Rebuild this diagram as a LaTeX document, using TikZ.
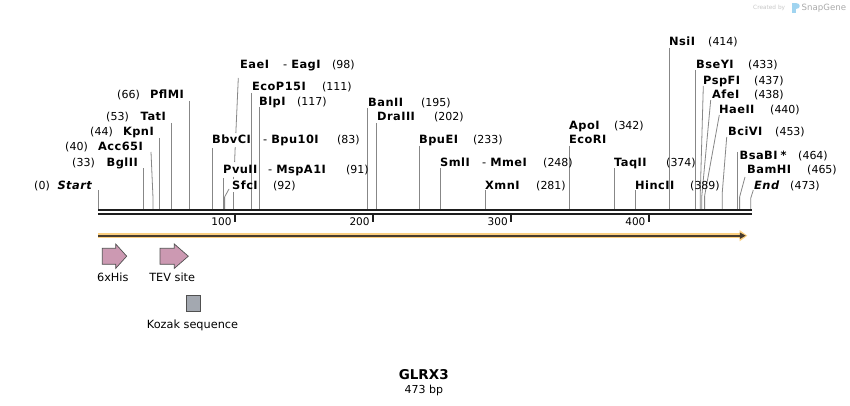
\documentclass[tikz,border=0pt]{standalone}
\usepackage{fontspec}
\setmainfont{DejaVu Sans}
\newfontfamily\namefont[LetterSpace=4]{DejaVu Sans}
\definecolor{siteg}{RGB}{135,135,135}
\definecolor{dnak}{RGB}{30,30,30}
\definecolor{orband}{RGB}{252,208,128}
\definecolor{ordark}{RGB}{72,60,46}
\definecolor{featpink}{RGB}{204,153,178}
\definecolor{featedge}{RGB}{80,80,80}
\definecolor{kozakg}{RGB}{163,168,176}
\definecolor{credg}{RGB}{200,200,200}
\definecolor{credb}{RGB}{160,212,240}
\tikzset{
  siteline/.style={draw=siteg, line width=0.8pt},
  ename/.style={font=\fontsize{11.4}{13}\namefont\bfseries, inner sep=0pt},
  eital/.style={font=\fontsize{11.4}{13}\namefont\bfseries\itshape, inner sep=0pt},
  enum/.style={font=\fontsize{11}{13}\selectfont, inner sep=0pt},
  ticklab/.style={font=\fontsize{10.5}{12}\selectfont, inner sep=0pt, anchor=base east},
  dnaline/.style={draw=dnak, line width=2.4pt},
  tickmark/.style={draw=dnak, line width=1.8pt},
  featarrow/.style={fill=featpink, draw=featedge, line width=0.7pt},
  featlab/.style={font=\fontsize{11.3}{13}\selectfont, inner sep=0pt},
}
\begin{document}
\begin{tikzpicture}[x=1pt, y=-1pt]
\useasboundingbox (0,0) rectangle (850,406);
\fill[white] (0,0) rectangle (850,406);

% credit
\node[font=\fontsize{5.8}{7}\selectfont, text=credg, inner sep=0pt, anchor=base west] (credit) at (753,10) {Created by};
\fill[credb] (792,3) rectangle (796,13);
\fill[credb] (796,3) .. controls (801,3) and (801,9) .. (796,9) -- cycle;
\node[font=\fontsize{8.6}{10}\selectfont, text=credg!85!black, inner sep=0pt, anchor=base west] (snapgene) at (801.5,10.5) {SnapGene};

% site lines
\draw[siteline] (98.3,190) -- (98.3,209);
\draw[siteline] (143.3,168) -- (143.3,209);
\draw[siteline] (151,152) -- (153,198) -- (153,209);
\draw[siteline] (159.3,138) -- (159.3,209);
\draw[siteline] (171.3,123) -- (171.3,209);
\draw[siteline] (189.3,101) -- (189.3,209);
\draw[siteline] (212.3,148) -- (212.3,209);
\draw[siteline] (223.3,178) -- (223.3,209);
\draw[siteline] (229,189) -- (224.6,197) -- (224.6,209);
\draw[siteline] (238.3,78) -- (235.85,133);
\draw[siteline] (235.2,147) -- (234.6,162);
\draw[siteline] (233.6,177) -- (233.5,179);
\draw[siteline] (233.3,192) -- (233.3,209);
\draw[siteline] (251.7,93) -- (251.7,209);
\draw[siteline] (259.3,107) -- (259.3,209);
\draw[siteline] (367.3,108) -- (367.3,209);
\draw[siteline] (376.3,123) -- (376.3,209);
\draw[siteline] (419.3,146) -- (419.3,209);
\draw[siteline] (440,168) -- (440,209);
\draw[siteline] (485,190) -- (485,209);
\draw[siteline] (569.3,146) -- (569.3,209);
\draw[siteline] (614,168) -- (614,209);
\draw[siteline] (635,190) -- (635,209);
\draw[siteline] (669.3,48) -- (669.3,209);
\draw[siteline] (695.7,70) -- (695.7,209);
\draw[siteline] (703.3,86) -- (700.2,196) -- (700.2,209);
\draw[siteline] (710.7,100) -- (701.8,196) -- (701.8,209);
\draw[siteline] (719.3,115) -- (704.6,196) -- (704.6,209);
\draw[siteline] (726.7,137) -- (722.3,192) -- (722.3,209);
\draw[siteline] (737.8,152) -- (737.8,209);
\draw[siteline] (745,177) -- (739.6,197) -- (739.6,209);
\draw[siteline] (753.3,190) -- (750.8,198) -- (750.8,209);

% left labels (right aligned)
\node[eital, anchor=base east] (nStart) at (92,189) {Start};
\node[enum, anchor=base east] (cStart) at (50,189) {(0)};
\node[ename, anchor=base east] (nBglII) at (138,166) {BglII};
\node[enum, anchor=base east] (cBglII) at (95,166) {(33)};
\node[ename, anchor=base east] (nAcc) at (143,151) {Acc65I};
\node[enum, anchor=base east] (cAcc) at (88,151) {(40)};
\node[ename, anchor=base east] (nKpn) at (154,136) {KpnI};
\node[enum, anchor=base east] (cKpn) at (113,136) {(44)};
\node[ename, anchor=base east] (nTat) at (166,121) {TatI};
\node[enum, anchor=base east] (cTat) at (129,121) {(53)};
\node[ename, anchor=base east] (nPfl) at (184,99) {PflMI};
\node[enum, anchor=base east] (cPfl) at (140,99) {(66)};

% middle labels
\node[ename, anchor=base west] (nEae) at (240,69) {EaeI};
\node[ename, anchor=base west] (nEag) at (283,69) {{\mdseries-}\hspace{4pt}EagI};
\node[enum, anchor=base west] (cEae) at (332,69) {(98)};
\node[ename, anchor=base west] (nEco15) at (252,91) {EcoP15I};
\node[enum, anchor=base west] (cEco15) at (322,91) {(111)};
\node[ename, anchor=base west] (nBlp) at (259,106) {BlpI};
\node[enum, anchor=base west] (cBlp) at (297,106) {(117)};
\node[ename, anchor=base west] (nBbv) at (212,144) {BbvCI};
\node[ename, anchor=base west] (nBpu10) at (263,144) {{\mdseries-}\hspace{4pt}Bpu10I};
\node[enum, anchor=base west] (cBbv) at (337,144) {(83)};
\node[ename, anchor=base west] (nPvu) at (223,173) {PvuII};
\node[ename, anchor=base west] (nMsp) at (268,173) {{\mdseries-}\hspace{4pt}MspA1I};
\node[enum, anchor=base west] (cPvu) at (346,173) {(91)};
\node[ename, anchor=base west] (nSfc) at (232,189) {SfcI};
\node[enum, anchor=base west] (cSfc) at (273,189) {(92)};
\node[ename, anchor=base west] (nBan) at (368,107) {BanII};
\node[enum, anchor=base west] (cBan) at (421,107) {(195)};
\node[ename, anchor=base west] (nDra) at (377,121) {DraIII};
\node[enum, anchor=base west] (cDra) at (434,121) {(202)};
\node[ename, anchor=base west] (nBpuE) at (419,144) {BpuEI};
\node[enum, anchor=base west] (cBpuE) at (473,144) {(233)};
\node[ename, anchor=base west] (nSml) at (440,166) {SmlI};
\node[ename, anchor=base west] (nMme) at (482,166) {{\mdseries-}\hspace{4pt}MmeI};
\node[enum, anchor=base west] (cSml) at (543,166) {(248)};
\node[ename, anchor=base west] (nXmn) at (485,189) {XmnI};
\node[enum, anchor=base west] (cXmn) at (536,189) {(281)};
\node[ename, anchor=base west] (nApo) at (569,130) {ApoI};
\node[enum, anchor=base west] (cApo) at (614,130) {(342)};
\node[ename, anchor=base west] (nEcoRI) at (569,144) {EcoRI};
\node[ename, anchor=base west] (nTaq) at (614,166) {TaqII};
\node[enum, anchor=base west] (cTaq) at (666,166) {(374)};
\node[ename, anchor=base west] (nHinc) at (635,189) {HincII};
\node[enum, anchor=base west] (cHinc) at (690,189) {(389)};

% right labels
\node[ename, anchor=base west] (nNsi) at (669,46) {NsiI};
\node[enum, anchor=base west] (cNsi) at (708,46) {(414)};
\node[ename, anchor=base west] (nBseY) at (696,69) {BseYI};
\node[enum, anchor=base west] (cBseY) at (748,69) {(433)};
\node[ename, anchor=base west] (nPspF) at (703,85) {PspFI};
\node[enum, anchor=base west] (cPspF) at (754,85) {(437)};
\node[ename, anchor=base west] (nAfe) at (712,99) {AfeI};
\node[enum, anchor=base west] (cAfe) at (754,99) {(438)};
\node[ename, anchor=base west] (nHae) at (719,114) {HaeII};
\node[enum, anchor=base west] (cHae) at (770,114) {(440)};
\node[ename, anchor=base west] (nBci) at (728,136) {BciVI};
\node[enum, anchor=base west] (cBci) at (775,136) {(453)};
\node[ename, anchor=base west] (nBsaB) at (739.5,160) {BsaBI\hspace{3pt}*};
\node[enum, anchor=base west] (cBsaB) at (798,160) {(464)};
\node[ename, anchor=base west] (nBam) at (747,174) {BamHI};
\node[enum, anchor=base west] (cBam) at (807,174) {(465)};
\node[eital, anchor=base west] (nEnd) at (754,189) {End};
\node[enum, anchor=base west] (cEnd) at (790,189) {(473)};

% DNA
\draw[dnaline] (98,210.2) -- (751.7,210.2);
\draw[dnaline] (98,214) -- (751.7,214);
\draw[tickmark] (235,214) -- (235,222);
\draw[tickmark] (373.1,214) -- (373.1,222);
\draw[tickmark] (511.2,214) -- (511.2,222);
\draw[tickmark] (649.3,214) -- (649.3,222);
\node[ticklab] (t100) at (231.7,225.5) {100};
\node[ticklab] (t200) at (369.8,225.5) {200};
\node[ticklab] (t300) at (507.9,225.5) {300};
\node[ticklab] (t400) at (645.6,225.5) {400};

% ORF
\draw[draw=orband, line width=5.5pt] (98.3,235.7) -- (741,235.7);
\fill[orband] (739.5,230) -- (747.3,235.7) -- (739.5,241.4) -- cycle;
\draw[draw=ordark, line width=1.6pt] (98.3,235.7) -- (741,235.7);
\fill[ordark] (739.8,232.4) -- (745.6,235.7) -- (739.8,239) -- cycle;

% features
\draw[featarrow] (102.3,248.3) -- (115.7,248.3) -- (115.7,244) -- (126.7,256.2) -- (115.7,268.4) -- (115.7,264.3) -- (102.3,264.3) -- cycle;
\draw[featarrow] (160,248.3) -- (174.3,248.3) -- (174.3,244) -- (188.3,256.2) -- (174.3,268.4) -- (174.3,264.3) -- (160,264.3) -- cycle;
\node[featlab] (lHis) at (112.8,277.3) {6xHis};
\node[featlab] (lTEV) at (172.2,277.3) {TEV site};
\draw[fill=kozakg, draw=featedge, line width=0.7pt] (186.7,295) rectangle (200.7,311.3);
\node[featlab] (lKozak) at (192.5,325) {Kozak sequence};

% title
\node[font=\fontsize{13.5}{16}\selectfont\bfseries, inner sep=0pt] (title) at (423.7,374.5) {GLRX3};
\node[font=\fontsize{11}{13}\selectfont, inner sep=0pt] (size) at (423.8,390) {473 bp};
\end{tikzpicture}
\end{document}
